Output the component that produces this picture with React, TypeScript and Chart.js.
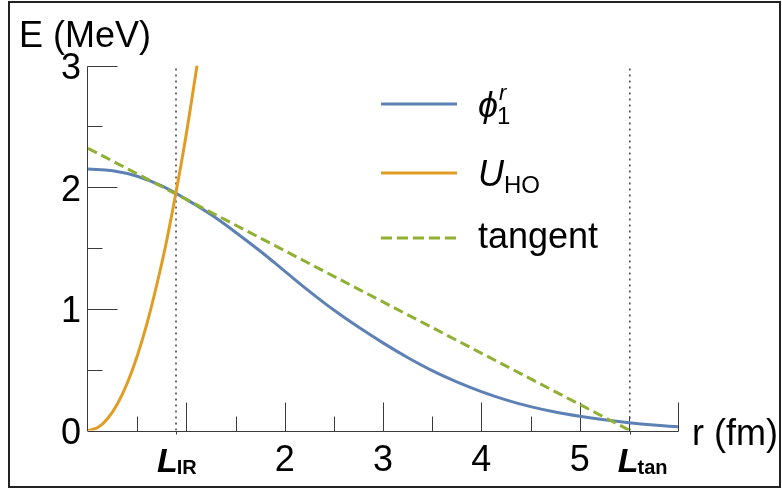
import { useEffect, useRef } from "react";
import { Chart, registerables } from "chart.js";

Chart.register(...registerables);

const W = 782;
const H = 489;

// phi_1^r (MeV) sampled along r (fm)
const rGrid = [0, 0.25, 0.5, 0.75, 1.0, 1.25, 1.5, 1.75, 2.0, 2.25, 2.5, 2.75, 3.0, 3.25, 3.5, 3.75, 4.0, 4.25, 4.5, 4.75, 5.0, 5.25, 5.5, 5.75, 6.0];
const phiValues = [2.15, 2.135, 2.09, 2.01, 1.9, 1.775, 1.63, 1.475, 1.31, 1.145, 0.99, 0.85, 0.72, 0.6, 0.492, 0.4, 0.32, 0.252, 0.196, 0.152, 0.117, 0.088, 0.064, 0.045, 0.031];

// harmonic-oscillator potential U_HO
const uHoR = [0, 0.1, 0.2, 0.3, 0.4, 0.5, 0.6, 0.7, 0.8, 0.9, 1.0, 1.109];
const uHoValues = [0, 0.024, 0.098, 0.22, 0.39, 0.61, 0.88, 1.2, 1.56, 1.98, 2.44, 3.0];

// tangent line at L_IR, reaching zero at L_tan
const tangentR = [0, 5.51];
const tangentE = [2.32, 0];

const L_IR = 0.895;
const L_TAN = 5.51;

const xMin = 0;
const xMax = 6;
const yMin = 0;
const yMax = 3;

const xMajorTicks = [1, 2, 3, 4, 5, 6];
const xMinorTicks = [0.5, 1.5, 2.5, 3.5, 4.5, 5.5];
const xTickValues = [2, 3, 4, 5];
const xTickLabels = ["2", "3", "4", "5"];
const yMajorTicks = [1, 2, 3];
const yMinorTicks = [0.5, 1.5, 2.5];
const yTickValues = [0, 1, 2, 3];
const yTickLabels = ["0", "1", "2", "3"];

const BLUE = "#5E81B5";
const ORANGE = "#E19C24";
const GREEN = "#8FB032";
const AXIS = "#3a3a3a";
const FONT = '"Liberation Sans", Arial, Helvetica, sans-serif';

const pts = (xs: number[], ys: number[]) => xs.map((x, i) => ({ x, y: ys[i] }));

const axesPlugin = {
  id: "plotAxes",
  beforeDatasetsDraw(chart: any) {
    const { ctx } = chart;
    const sx = chart.scales.x;
    const sy = chart.scales.y;
    const px = (v: number) => Math.round(sx.getPixelForValue(v)) + 0.5;
    const py = (v: number) => Math.round(sy.getPixelForValue(v)) + 0.5;
    ctx.save();
    ctx.strokeStyle = AXIS;
    ctx.lineWidth = 1;
    ctx.beginPath();
    // axis lines
    ctx.moveTo(px(0) - 0.5, py(0));
    ctx.lineTo(px(xMax), py(0));
    ctx.moveTo(px(0) - 1, py(0));
    ctx.lineTo(px(0) - 1, py(yMax));
    // x ticks (pointing up)
    xMajorTicks.forEach((v) => {
      ctx.moveTo(px(v), py(0));
      ctx.lineTo(px(v), py(0) - 29);
    });
    xMinorTicks.forEach((v) => {
      ctx.moveTo(px(v), py(0));
      ctx.lineTo(px(v), py(0) - 15);
    });
    // y ticks (pointing right)
    yMajorTicks.forEach((v) => {
      ctx.moveTo(px(0) - 1, py(v));
      ctx.lineTo(px(0) + 29, py(v));
    });
    yMinorTicks.forEach((v) => {
      ctx.moveTo(px(0) - 1, py(v));
      ctx.lineTo(px(0) + 14, py(v));
    });
    // short outer ticks at the two marked lengths
    [L_IR, L_TAN].forEach((v) => {
      ctx.moveTo(px(v), py(0));
      ctx.lineTo(px(v), py(0) + 3);
    });
    ctx.stroke();
    ctx.restore();
  },
  afterDraw(chart: any) {
    const { ctx } = chart;
    const sx = chart.scales.x;
    const sy = chart.scales.y;
    const px = (v: number) => sx.getPixelForValue(v);
    const py = (v: number) => sy.getPixelForValue(v);
    ctx.save();
    ctx.fillStyle = "#000";
    ctx.textBaseline = "alphabetic";

    // axis titles
    ctx.font = `36px ${FONT}`;
    ctx.textAlign = "left";
    ctx.fillText("E (MeV)", 19, 47);
    ctx.fillText("r (fm)", 692, 445);

    // y tick labels
    ctx.textAlign = "right";
    yTickValues.forEach((v, i) => {
      ctx.fillText(yTickLabels[i], px(0) - 7, py(v) + 13.5);
    });

    // x tick labels
    ctx.textAlign = "center";
    xTickValues.forEach((v, i) => {
      ctx.fillText(xTickLabels[i], px(v), 471);
    });

    // L_IR and L_tan labels
    ctx.textAlign = "left";
    const lLabel = (x0: number, sub: string) => {
      ctx.font = `italic bold 34px ${FONT}`;
      ctx.fillText("L", x0, 472);
      const w = ctx.measureText("L").width;
      ctx.font = `bold 20px ${FONT}`;
      ctx.fillText(sub, x0 + w - 1, 474);
    };
    lLabel(px(L_IR) - 19, "IR");
    lLabel(px(L_TAN) - 12, "tan");

    // legend
    const lx0 = 381;
    const lx1 = 457;
    const tx = 478;
    ctx.lineWidth = 3;
    ctx.lineCap = "butt";
    ctx.strokeStyle = BLUE;
    ctx.beginPath();
    ctx.moveTo(lx0, 104);
    ctx.lineTo(lx1, 104);
    ctx.stroke();
    ctx.strokeStyle = ORANGE;
    ctx.beginPath();
    ctx.moveTo(lx0, 173);
    ctx.lineTo(lx1, 173);
    ctx.stroke();
    ctx.strokeStyle = GREEN;
    ctx.setLineDash([11, 5]);
    ctx.beginPath();
    ctx.moveTo(lx0, 238);
    ctx.lineTo(lx1, 238);
    ctx.stroke();
    ctx.setLineDash([]);

    // phi_1^r
    ctx.font = `italic 36px ${FONT}`;
    ctx.fillText("\u03d5", tx, 117);
    const phiW = ctx.measureText("\u03d5").width;
    ctx.font = `italic 22px ${FONT}`;
    ctx.fillText("r", tx + phiW + 1, 100);
    ctx.font = `24px ${FONT}`;
    ctx.fillText("1", tx + phiW - 1, 124);

    // U_HO
    ctx.font = `italic 36px ${FONT}`;
    ctx.fillText("U", tx, 186);
    const uW = ctx.measureText("U").width;
    ctx.font = `24px ${FONT}`;
    ctx.fillText("HO", tx + uW, 193);

    // tangent
    ctx.font = `36px ${FONT}`;
    ctx.fillText("tangent", tx, 248);

    // outer frame
    ctx.strokeStyle = "#222";
    ctx.lineWidth = 2;
    ctx.strokeRect(9, 2, 771, 485);
    ctx.restore();
  },
};

export default function App() {
  const canvasRef = useRef<HTMLCanvasElement | null>(null);

  useEffect(() => {
    const canvas = canvasRef.current;
    if (!canvas) return;
    const chart = new Chart(canvas, {
      type: "line",
      data: {
        datasets: [
          {
            label: "U_HO",
            data: pts(uHoR, uHoValues),
            borderColor: ORANGE,
            borderWidth: 3,
            pointRadius: 0,
            tension: 0.4,
            fill: false,
          },
          {
            label: "tangent",
            data: pts(tangentR, tangentE),
            borderColor: GREEN,
            borderWidth: 3,
            borderDash: [10, 5],
            pointRadius: 0,
            fill: false,
          },
          {
            label: "phi_1^r",
            data: pts(rGrid, phiValues),
            borderColor: BLUE,
            borderWidth: 3,
            pointRadius: 0,
            tension: 0.4,
            fill: false,
          },
          {
            label: "L_IR",
            data: pts([L_IR, L_IR], [yMin, yMax]),
            borderColor: "#333333",
            borderWidth: 1.4,
            borderDash: [2, 4],
            pointRadius: 0,
            fill: false,
          },
          {
            label: "L_tan",
            data: pts([L_TAN, L_TAN], [yMin, yMax]),
            borderColor: "#333333",
            borderWidth: 1.4,
            borderDash: [2, 4],
            pointRadius: 0,
            fill: false,
          },
        ],
      },
      options: {
        animation: false,
        responsive: false,
        devicePixelRatio: 1,
        layout: {
          padding: { left: 88, right: 104, top: 65.5, bottom: 58.5 },
        },
        scales: {
          x: { type: "linear", min: xMin, max: xMax, display: false },
          y: { type: "linear", min: yMin, max: yMax, display: false },
        },
        plugins: {
          legend: { display: false },
          tooltip: { enabled: false },
        },
      },
      plugins: [axesPlugin],
    });
    return () => chart.destroy();
  }, []);

  return (
    <div style={{ position: "fixed", left: 0, top: 0, width: W, height: H, background: "#fff" }}>
      <canvas ref={canvasRef} width={W} height={H} style={{ display: "block" }} />
    </div>
  );
}
